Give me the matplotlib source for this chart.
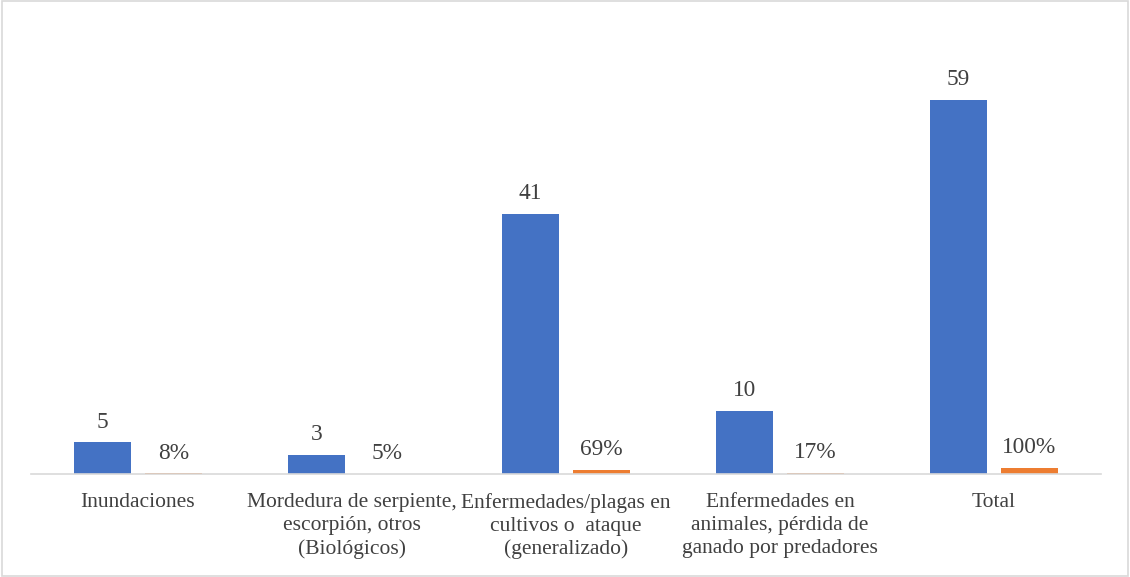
import matplotlib
matplotlib.use("Agg")
import matplotlib.pyplot as plt
from matplotlib.patches import Rectangle
import numpy as np

categories = [
    "Inundaciones",
    "Mordedura de serpiente,\nescorpión, otros\n(Biológicos)",
    "Enfermedades/plagas en\ncultivos o  ataque\n(generalizado)",
    "Enfermedades en\nanimales, pérdida de\nganado por predadores",
    "Total",
]
counts = [5, 3, 41, 10, 59]
shares = [0.08, 0.05, 0.69, 0.17, 1.00]

plt.rcParams["font.family"] = ["Liberation Serif", "DejaVu Serif"]

fig = plt.figure(figsize=(11.3, 5.77), dpi=100)
ax = fig.add_axes([0.0274, 0.1785, 0.9469, 0.769])

x = np.arange(len(categories))
w = 0.266
off = 0.166
blue = "#4472C4"
orange = "#ED7D31"
txt = "#404040"
fs_tick = 15.5
fs_lab = 16.8

b1 = ax.bar(x - off, counts, w, color=blue)
b2 = ax.bar(x + off, shares, w, color=orange)

for rect, v in zip(b1, counts):
    ax.annotate(f"{v}", (rect.get_x() + rect.get_width() / 2, rect.get_height()),
                xytext=(0, 7), textcoords="offset points", ha="center", va="bottom",
                fontsize=fs_lab, color=txt)
for rect, v in zip(b2, shares):
    ax.annotate(f"{v:.0%}", (rect.get_x() + rect.get_width() / 2, rect.get_height()),
                xytext=(0, 7), textcoords="offset points", ha="center", va="bottom",
                fontsize=fs_lab, color=txt)

ax.set_xlim(-0.5, len(categories) - 0.5)
ax.set_ylim(0, 70)
ax.set_xticks(x)
ax.set_xticklabels(categories, fontsize=fs_tick, color=txt, linespacing=1.28)
ax.tick_params(axis="x", length=0, pad=13.5)
ax.set_yticks([])
for s in ["top", "left", "right"]:
    ax.spines[s].set_visible(False)
ax.spines["bottom"].set_color("#d9d9d9")
ax.spines["bottom"].set_linewidth(1.2)

fig.patches.append(Rectangle((0.002, 0.002), 0.996, 0.996, transform=fig.transFigure,
                             fill=False, edgecolor="#d9d9d9", linewidth=1.2))

fig.savefig("out.png", dpi=100)
